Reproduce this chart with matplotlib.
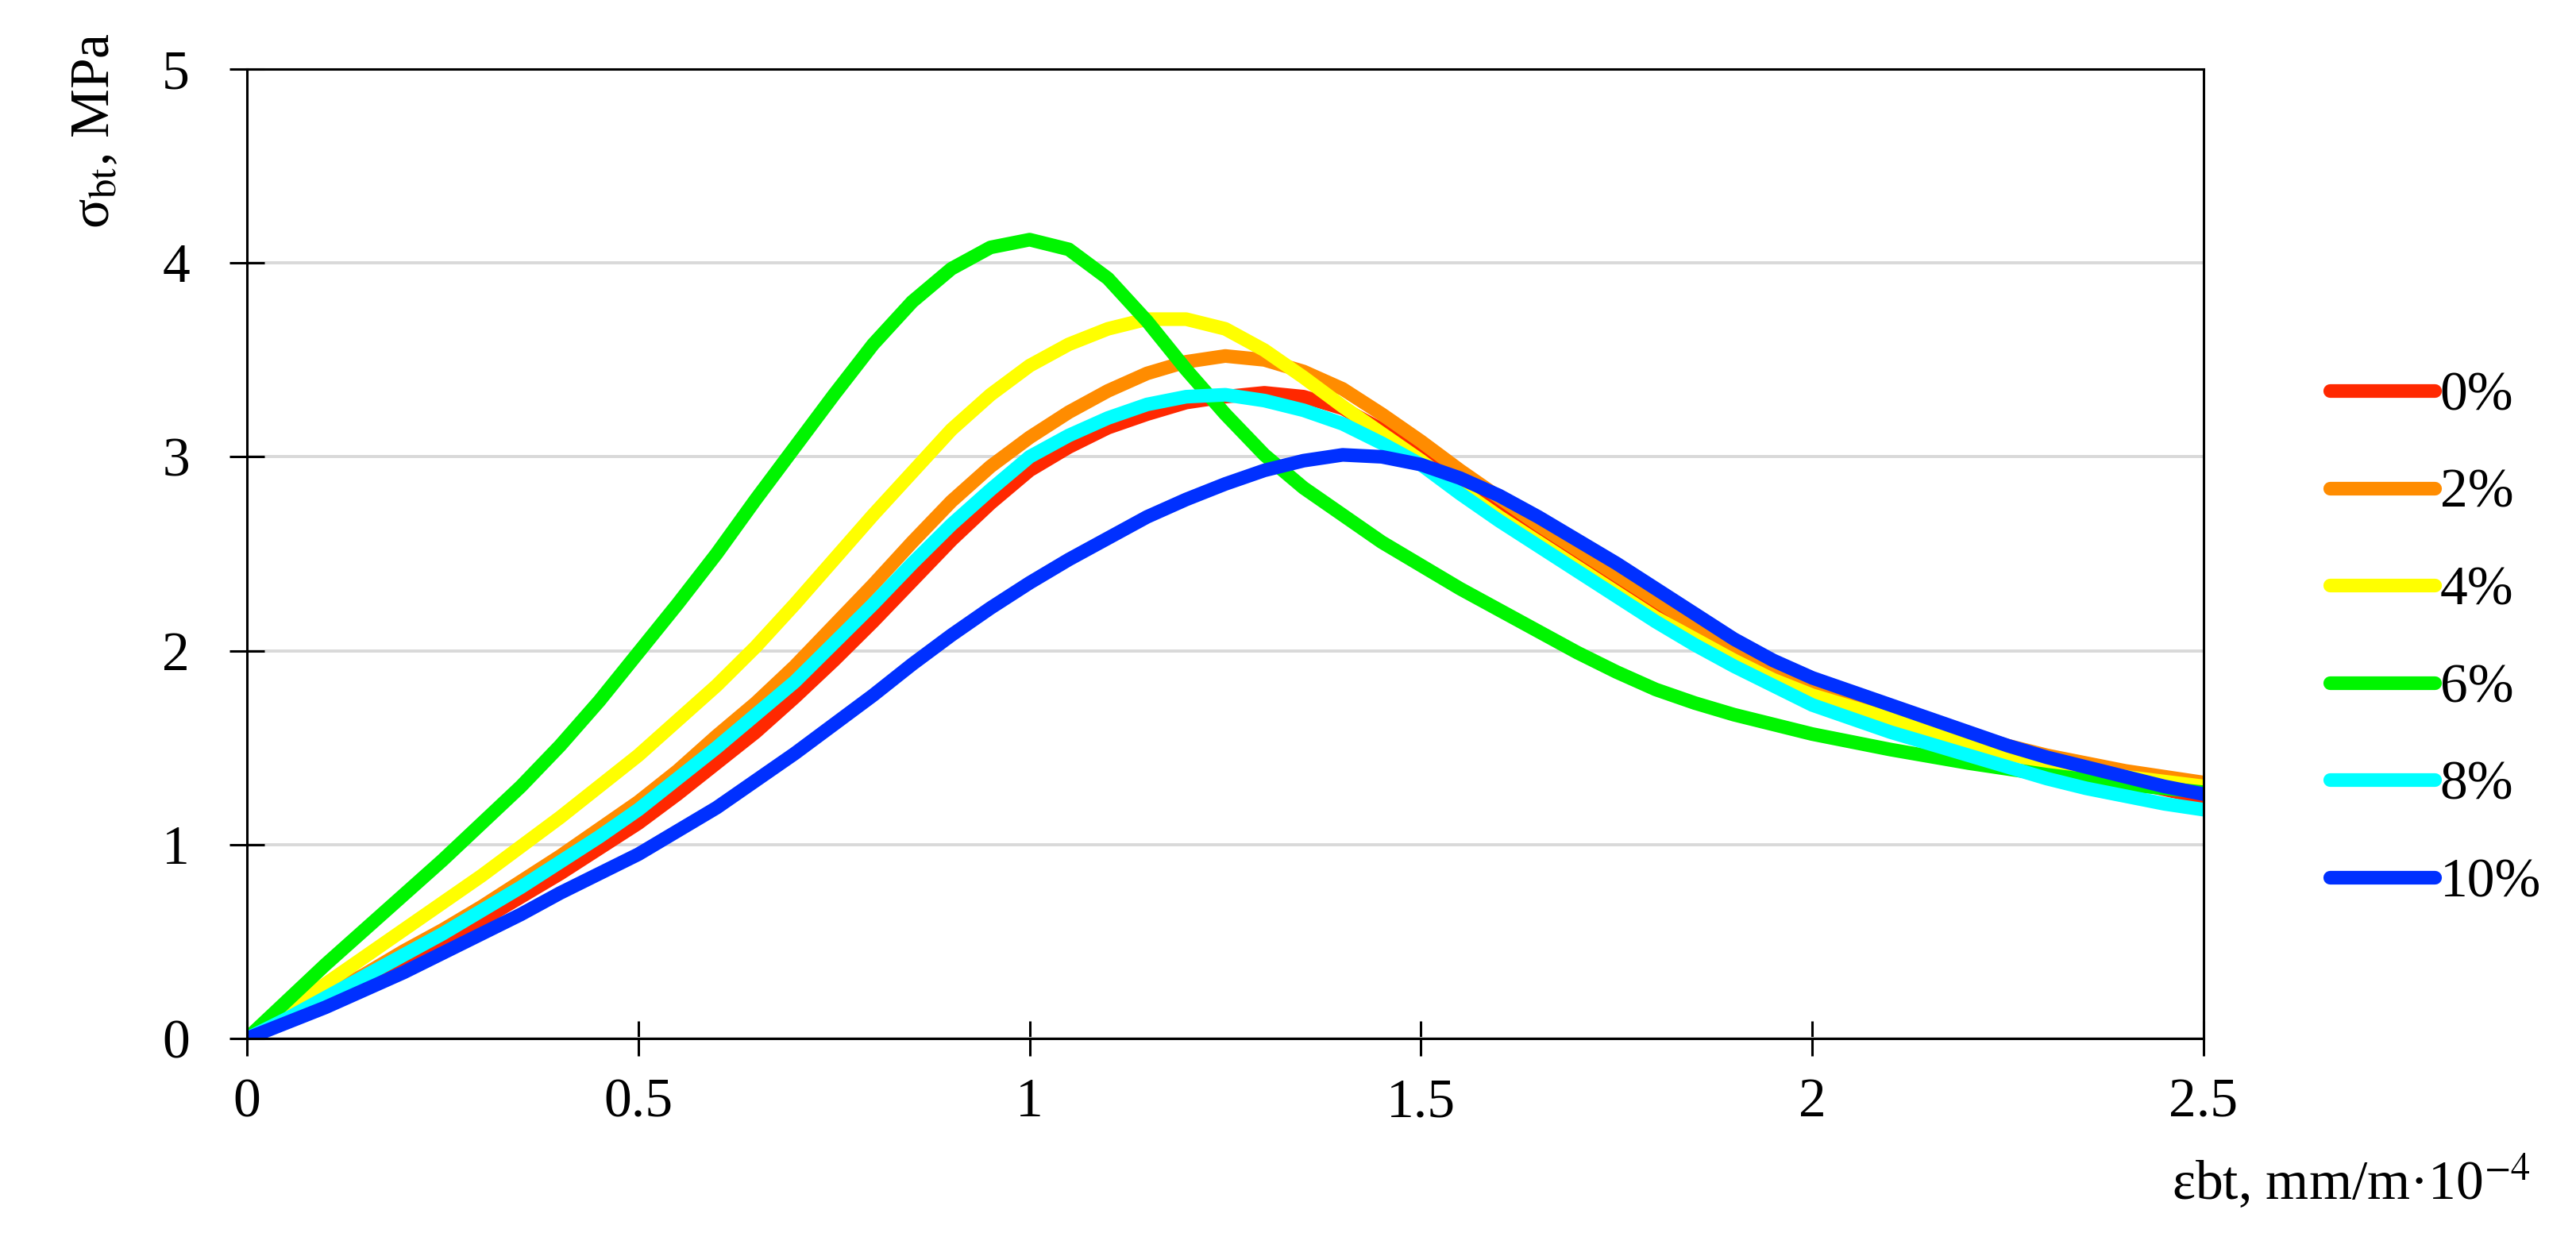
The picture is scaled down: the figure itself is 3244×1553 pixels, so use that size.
import matplotlib
matplotlib.use('Agg')
import matplotlib.pyplot as plt

# 데이터 (그림에서 0.05 간격으로 읽은 값)
strain = [0, 0.05, 0.1, 0.15, 0.2, 0.25, 0.3, 0.35, 0.4, 0.45, 0.5, 0.55, 0.6, 0.65, 0.7, 0.75,
          0.8, 0.85, 0.9, 0.95, 1.0, 1.05, 1.1, 1.15, 1.2, 1.25, 1.3, 1.35, 1.4, 1.45, 1.5, 1.55,
          1.6, 1.65, 1.7, 1.75, 1.8, 1.85, 1.9, 1.95, 2.0, 2.05, 2.1, 2.15, 2.2, 2.25, 2.3, 2.35,
          2.4, 2.45, 2.5]

s_0 = [0, 0.09, 0.19, 0.29, 0.40, 0.50, 0.61, 0.73, 0.85, 0.98, 1.11, 1.26, 1.42, 1.58, 1.76, 1.95,
       2.15, 2.36, 2.57, 2.76, 2.93, 3.05, 3.15, 3.22, 3.28, 3.31, 3.33, 3.31, 3.25, 3.14, 3.01, 2.88,
       2.75, 2.62, 2.49, 2.36, 2.23, 2.11, 2.00, 1.89, 1.79, 1.73, 1.67, 1.61, 1.55, 1.49, 1.44, 1.38,
       1.33, 1.285, 1.24]
s_2 = [0, 0.11, 0.22, 0.33, 0.45, 0.56, 0.68, 0.81, 0.94, 1.08, 1.22, 1.38, 1.56, 1.73, 1.92, 2.13,
       2.34, 2.56, 2.77, 2.95, 3.10, 3.23, 3.34, 3.43, 3.49, 3.52, 3.50, 3.44, 3.35, 3.22, 3.08, 2.93,
       2.79, 2.65, 2.52, 2.39, 2.26, 2.13, 2.01, 1.90, 1.81, 1.74, 1.68, 1.62, 1.57, 1.51, 1.46, 1.42,
       1.38, 1.35, 1.32]
s_4 = [0, 0.14, 0.28, 0.42, 0.56, 0.70, 0.84, 0.99, 1.14, 1.30, 1.46, 1.64, 1.82, 2.02, 2.24, 2.47,
       2.70, 2.92, 3.14, 3.32, 3.47, 3.58, 3.66, 3.71, 3.71, 3.66, 3.55, 3.41, 3.26, 3.12, 2.98, 2.83,
       2.69, 2.56, 2.43, 2.30, 2.17, 2.06, 1.95, 1.85, 1.77, 1.71, 1.65, 1.58, 1.52, 1.47, 1.42, 1.385,
       1.35, 1.325, 1.30]
s_6 = [0, 0.19, 0.38, 0.56, 0.74, 0.92, 1.11, 1.30, 1.51, 1.74, 1.99, 2.24, 2.50, 2.78, 3.05, 3.32,
       3.58, 3.80, 3.97, 4.08, 4.12, 4.07, 3.92, 3.70, 3.45, 3.22, 3.01, 2.84, 2.70, 2.56, 2.44, 2.32,
       2.21, 2.10, 1.99, 1.89, 1.80, 1.73, 1.67, 1.62, 1.57, 1.53, 1.49, 1.455, 1.42, 1.39, 1.36, 1.335,
       1.31, 1.29, 1.27]
s_8 = [0, 0.10, 0.21, 0.32, 0.43, 0.54, 0.66, 0.78, 0.91, 1.04, 1.18, 1.34, 1.50, 1.67, 1.84, 2.04,
       2.24, 2.45, 2.65, 2.83, 3.00, 3.11, 3.20, 3.27, 3.31, 3.32, 3.29, 3.24, 3.17, 3.07, 2.96, 2.81,
       2.67, 2.54, 2.41, 2.28, 2.15, 2.03, 1.92, 1.82, 1.72, 1.65, 1.58, 1.52, 1.46, 1.40, 1.34, 1.29,
       1.25, 1.21, 1.18]
s_10 = [0, 0.08, 0.16, 0.25, 0.34, 0.44, 0.54, 0.64, 0.75, 0.85, 0.95, 1.07, 1.19, 1.33, 1.47, 1.62,
        1.77, 1.93, 2.08, 2.22, 2.35, 2.47, 2.58, 2.69, 2.78, 2.86, 2.93, 2.98, 3.01, 3.00, 2.96, 2.89,
        2.80, 2.69, 2.57, 2.45, 2.32, 2.19, 2.06, 1.95, 1.86, 1.79, 1.72, 1.65, 1.58, 1.51, 1.45, 1.40,
        1.35, 1.30, 1.26]

labels = ['0%', '2%', '4%', '6%', '8%', '10%']
colors = ['#ff2800', '#ff8c00', '#ffff00', '#00f500', '#00ffff', '#0030ff']

x_ticks = [0, 0.5, 1, 1.5, 2, 2.5]
x_tick_labels = ['0', '0.5', '1', '1.5', '2', '2.5']
y_ticks = [0, 1, 2, 3, 4, 5]

plt.rcParams['font.family'] = ['Liberation Serif', 'DejaVu Serif']
plt.rcParams['mathtext.fontset'] = 'stix'

fig = plt.figure(figsize=(16.22, 7.765), dpi=200)
ax = fig.add_axes([0.0959, 0.1578, 0.7595, 0.7862])

series = [s_0, s_2, s_4, s_6, s_8, s_10]
for ys, lab, c in zip(series, labels, colors):
    ax.plot(strain, ys, color=c, lw=6.2, label=lab, solid_capstyle='round', solid_joinstyle='round')

ax.set_xlim(0, 2.5)
ax.set_ylim(0, 5)
ax.set_xticks(x_ticks)
ax.set_xticklabels(x_tick_labels)
ax.set_yticks(y_ticks)

# 축, 눈금
for sp in ax.spines.values():
    sp.set_color('black')
    sp.set_linewidth(1.1)
ax.tick_params(axis='both', direction='inout', length=16, width=1.1, labelsize=25, colors='black')
ax.tick_params(axis='y', pad=18)
ax.tick_params(axis='x', pad=10)
ax.yaxis.grid(True, color='#d9d9d9', lw=1.4)
ax.set_axisbelow(True)

fig.text(0.037, 0.894, r'σ$_{\mathrm{bt}}$, MPa', rotation=90, fontsize=25, ha='center', va='center')
fig.text(0.843, 0.041, r'εbt, mm/m·10$^{-4}$', fontsize=25, ha='left', va='center')

fig.legend(loc='center left', bbox_to_anchor=(0.9044, 0.481), frameon=False, fontsize=25,
           handlelength=1.9, handletextpad=0.1, labelspacing=0.85, borderpad=0, borderaxespad=0)

plt.savefig('out.png', dpi=200)
